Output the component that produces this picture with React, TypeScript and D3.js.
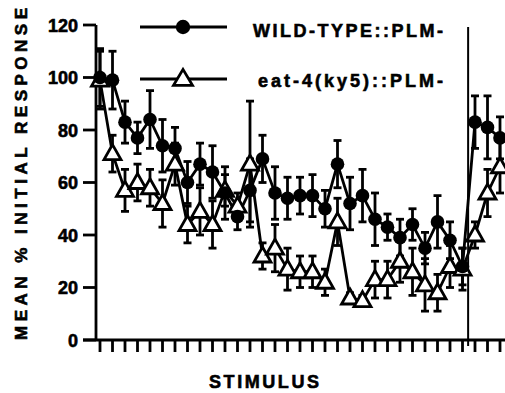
import React, { useEffect, useRef } from "react";
import * as d3 from "d3";

// stimulus index 0..32 (30 trials, then 3 after the dishabituation break)
const stimuli = d3.range(0, 33);

const wildType = [100, 99, 83, 77, 84, 74, 73, 60, 67, 64, 56, 47, 57, 69, 56, 54, 55, 55, 50, 67,
  52, 55, 46, 43, 39, 44, 35, 45, 38, 28, 83, 81, 77];
const wildTypeErr = [11, 11, 8, 6, 11, 10, 8, 8, 8, 10, 10, 5, 12, 9, 10, 8, 7, 8, 7, 9,
  10, 10, 10, 5, 7, 6, 6, 10, 7, 7, 10, 12, 8];

const eat4 = [99, 71, 57, 60, 58, 52, 67, 44, 49, 44, 57, 51, 67, 32, 35, 27, 26, 26, 22, 45,
  16, 15, 23, 23, 30, 26, 21, 18, 28, 27, 40, 56, 66];
const eat4Err = [11, 7, 8, 7, 7, 9, 8, 7, 9, 9, 6, 5, 24, 5, 9, 8, 6, 6, 5, 9,
  2, 2, 7, 7, 8, 9, 10, 7, 8, 8, 5, 9, 10];

const yTicks = [0, 20, 40, 60, 80, 100, 120];
const breakAt = 29.45;

const legendLabels = ["WILD-TYPE::PLM-", "eat-4(ky5)::PLM-"];

const FONT = "'Liberation Sans', Arial, Helvetica, sans-serif";

const App = () => {
  const ref = useRef<SVGSVGElement | null>(null);

  useEffect(() => {
    if (!ref.current) return;
    const width = 505, height = 393;
    const svg = d3.select(ref.current).attr("width", width).attr("height", height);
    svg.selectAll("*").remove();

    const x = d3.scaleLinear().domain([0, 32]).range([100, 500]);
    const y = d3.scaleLinear().domain([0, 120]).range([340, 25]);
    const sw = 2.8;

    const triPath = (cx: number, cy: number, w: number, h: number) =>
      `M${cx},${cy - h * 0.6}L${cx + w / 2},${cy + h * 0.4}L${cx - w / 2},${cy + h * 0.4}Z`;

    // bold text with a slight outline, to get the heavy typeface look
    const label = (sel: d3.Selection<SVGTextElement, unknown, null, undefined>, size: number) =>
      sel.attr("font-family", FONT).attr("font-weight", "bold").attr("font-size", size)
        .attr("stroke", "black").attr("stroke-width", 0.6);

    // axes
    svg.append("line")
      .attr("x1", 96).attr("x2", 96).attr("y1", y(120)).attr("y2", y(0))
      .attr("stroke", "black").attr("stroke-width", sw);
    svg.append("line")
      .attr("x1", 83).attr("x2", 505).attr("y1", y(0)).attr("y2", y(0))
      .attr("stroke", "black").attr("stroke-width", sw);

    yTicks.forEach((t) => {
      svg.append("line")
        .attr("x1", 83).attr("x2", 96).attr("y1", y(t)).attr("y2", y(t))
        .attr("stroke", "black").attr("stroke-width", sw);
      label(svg.append("text"), 18)
        .attr("x", 78).attr("y", y(t) + 6.5)
        .attr("text-anchor", "end")
        .text(t);
    });

    stimuli.forEach((s) => {
      svg.append("line")
        .attr("x1", x(s)).attr("x2", x(s)).attr("y1", y(0)).attr("y2", y(0) + 12)
        .attr("stroke", "black").attr("stroke-width", sw);
    });

    // break line
    svg.append("line")
      .attr("x1", x(breakAt)).attr("x2", x(breakAt)).attr("y1", 27).attr("y2", 346)
      .attr("stroke", "black").attr("stroke-width", 2);

    // axis titles
    label(svg.append("text"), 17)
      .attr("transform", "translate(27,174) rotate(-90)")
      .attr("text-anchor", "middle")
      .attr("textLength", 332).attr("lengthAdjust", "spacing")
      .text("MEAN % INITIAL RESPONSE");
    label(svg.append("text"), 18)
      .attr("x", 264).attr("y", 388)
      .attr("text-anchor", "middle")
      .attr("textLength", 110).attr("lengthAdjust", "spacing")
      .text("STIMULUS");

    const line = d3.line<number>().x((_, i) => x(stimuli[i])).y((d) => y(d));

    const drawErr = (vals: number[], errs: number[]) => {
      vals.forEach((v, i) => {
        const g = svg.append("g").attr("stroke", "black").attr("stroke-width", sw);
        g.append("line").attr("x1", x(i)).attr("x2", x(i))
          .attr("y1", y(v + errs[i])).attr("y2", y(v - errs[i]));
        g.append("line").attr("x1", x(i) - 4).attr("x2", x(i) + 4)
          .attr("y1", y(v + errs[i])).attr("y2", y(v + errs[i]));
        g.append("line").attr("x1", x(i) - 4).attr("x2", x(i) + 4)
          .attr("y1", y(v - errs[i])).attr("y2", y(v - errs[i]));
      });
    };

    drawErr(eat4, eat4Err);
    drawErr(wildType, wildTypeErr);

    svg.append("path").datum(eat4).attr("d", line)
      .attr("fill", "none").attr("stroke", "black").attr("stroke-width", sw);
    svg.append("path").datum(wildType).attr("d", line)
      .attr("fill", "none").attr("stroke", "black").attr("stroke-width", sw);

    eat4.forEach((v, i) => {
      svg.append("path").attr("d", triPath(x(i), y(v), 17, 15))
        .attr("fill", "white").attr("stroke", "black").attr("stroke-width", sw);
    });
    wildType.forEach((v, i) => {
      svg.append("circle").attr("cx", x(i)).attr("cy", y(v)).attr("r", 6.8).attr("fill", "black");
    });

    // legend
    const legY = [27, 79];
    legY.forEach((ly) => {
      svg.append("line").attr("x1", 140).attr("x2", 227).attr("y1", ly).attr("y2", ly)
        .attr("stroke", "black").attr("stroke-width", sw);
    });
    svg.append("circle").attr("cx", 183).attr("cy", legY[0]).attr("r", 7.2).attr("fill", "black");
    svg.append("path").attr("d", triPath(183, legY[1], 19, 16))
      .attr("fill", "white").attr("stroke", "black").attr("stroke-width", sw);

    label(svg.append("text"), 18)
      .attr("x", 253).attr("y", 37)
      .attr("textLength", 190).attr("lengthAdjust", "spacing")
      .text(legendLabels[0]);
    label(svg.append("text"), 18)
      .attr("x", 258).attr("y", 87)
      .attr("textLength", 185).attr("lengthAdjust", "spacing")
      .text(legendLabels[1]);
  }, []);

  return <svg ref={ref} style={{ position: "absolute", left: 0, top: 0 }}></svg>;
};

export default App;
